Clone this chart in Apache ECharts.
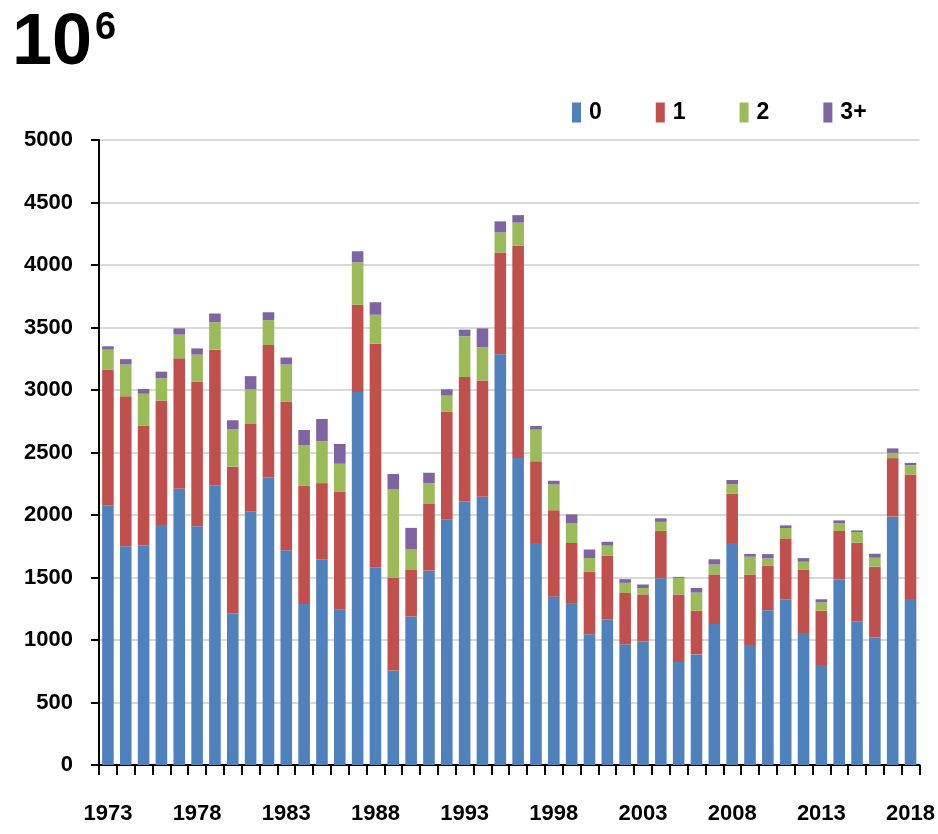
<!DOCTYPE html>
<html>
<head>
<meta charset="utf-8">
<title>chart</title>
<script src="https://cdn.jsdelivr.net/npm/echarts@6/dist/echarts.min.js"></script>
<style>
  html, body { margin: 0; padding: 0; background: #fff; }
  #main { width: 938px; height: 834px; }
</style>
</head>
<body>
<div id="main"></div>
<script>
var years = ['1973','1974','1975','1976','1977','1978','1979','1980','1981','1982',
             '1983','1984','1985','1986','1987','1988','1989','1990','1991','1992',
             '1993','1994','1995','1996','1997','1998','1999','2000','2001','2002',
             '2003','2004','2005','2006','2007','2008','2009','2010','2011','2012',
             '2013','2014','2015','2016','2017','2018'];

// 0
var age0 = [2075,1750,1758,1920,2210,1910,2238,1212,2030,2300,
            1718,1288,1646,1246,2985,1582,757,1188,1555,1966,
            2108,2146,3287,2457,1776,1346,1289,1046,1166,966,
            988,1494,824,885,1128,1776,960,1238,1326,1056,
            800,1487,1150,1019,1987,1329];
// 1
var age1 = [1086,1200,958,996,1044,1155,1085,1175,698,1060,
            1190,948,609,942,697,1788,743,377,533,862,
            996,931,813,1700,654,692,487,502,511,410,
            377,379,541,350,397,395,564,358,487,508,
            435,385,628,567,468,995];
// 2
var age2 = [162,254,254,178,189,218,219,301,277,199,
            296,324,335,222,339,232,704,163,167,127,
            326,266,160,182,253,206,160,108,78,81,
            51,72,132,144,79,76,142,57,83,62,
            65,64,86,72,42,73];
// 3+
var age3 = [27,43,38,53,50,50,70,70,106,63,
            56,120,178,158,89,100,124,169,83,51,
            53,150,89,60,29,30,69,68,31,30,
            28,29,8,37,42,33,23,34,21,29,
            26,21,13,32,36,20];

var seriesNames = ['0', '1', '2', '3+'];
var yTicks = [0, 500, 1000, 1500, 2000, 2500, 3000, 3500, 4000, 4500, 5000];

var font = "'Liberation Sans', Arial, sans-serif";
var colors = ['#4f81bd', '#c0504d', '#9bbb59', '#8064a2'];

var chart = echarts.init(document.getElementById('main'), null, { renderer: 'canvas' });

function makeSeries(name, data) {
  return {
    name: name,
    type: 'bar',
    stack: 'total',
    barCategoryGap: '35%',
    data: data
  };
}

var option = {
  animation: false,
  color: colors,
  graphic: [
    { type: 'text', left: 12, top: 8, style: { text: '10', font: 'bold 72px ' + font, fill: '#000' } },
    { type: 'text', left: 95, top: 10, style: { text: '6', font: 'bold 38px ' + font, fill: '#000' } }
  ],
  legend: {
    data: seriesNames,
    left: 567,
    top: 96,
    itemWidth: 9,
    itemHeight: 20,
    itemGap: 54,
    icon: 'rect',
    textStyle: { fontFamily: font, fontWeight: 'bold', fontSize: 23, color: '#000', padding: [0, 0, 0, 3] }
  },
  grid: { left: 99, right: 18, top: 140, bottom: 69, containLabel: false },
  xAxis: {
    type: 'category',
    data: years,
    boundaryGap: true,
    axisLine: { lineStyle: { color: '#000', width: 2 } },
    axisTick: { show: true, interval: 0, length: 10, lineStyle: { color: '#000', width: 2 } },
    axisLabel: {
      interval: 4,
      margin: 38,
      fontFamily: font,
      fontWeight: 'bold',
      fontSize: 22,
      color: '#000'
    }
  },
  yAxis: {
    type: 'value',
    min: yTicks[0],
    max: yTicks[yTicks.length - 1],
    interval: 500,
    axisLine: { show: true, lineStyle: { color: '#000', width: 2 } },
    axisTick: { show: true, length: 8, lineStyle: { color: '#000', width: 2 } },
    splitLine: { lineStyle: { color: '#d9d9d9', width: 2 } },
    axisLabel: {
      margin: 26,
      fontFamily: font,
      fontWeight: 'bold',
      fontSize: 22,
      color: '#000',
      formatter: function (v) { return String(v); }
    }
  },
  series: [
    makeSeries(seriesNames[0], age0),
    makeSeries(seriesNames[1], age1),
    makeSeries(seriesNames[2], age2),
    makeSeries(seriesNames[3], age3)
  ]
};

chart.setOption(option);
</script>
</body>
</html>
